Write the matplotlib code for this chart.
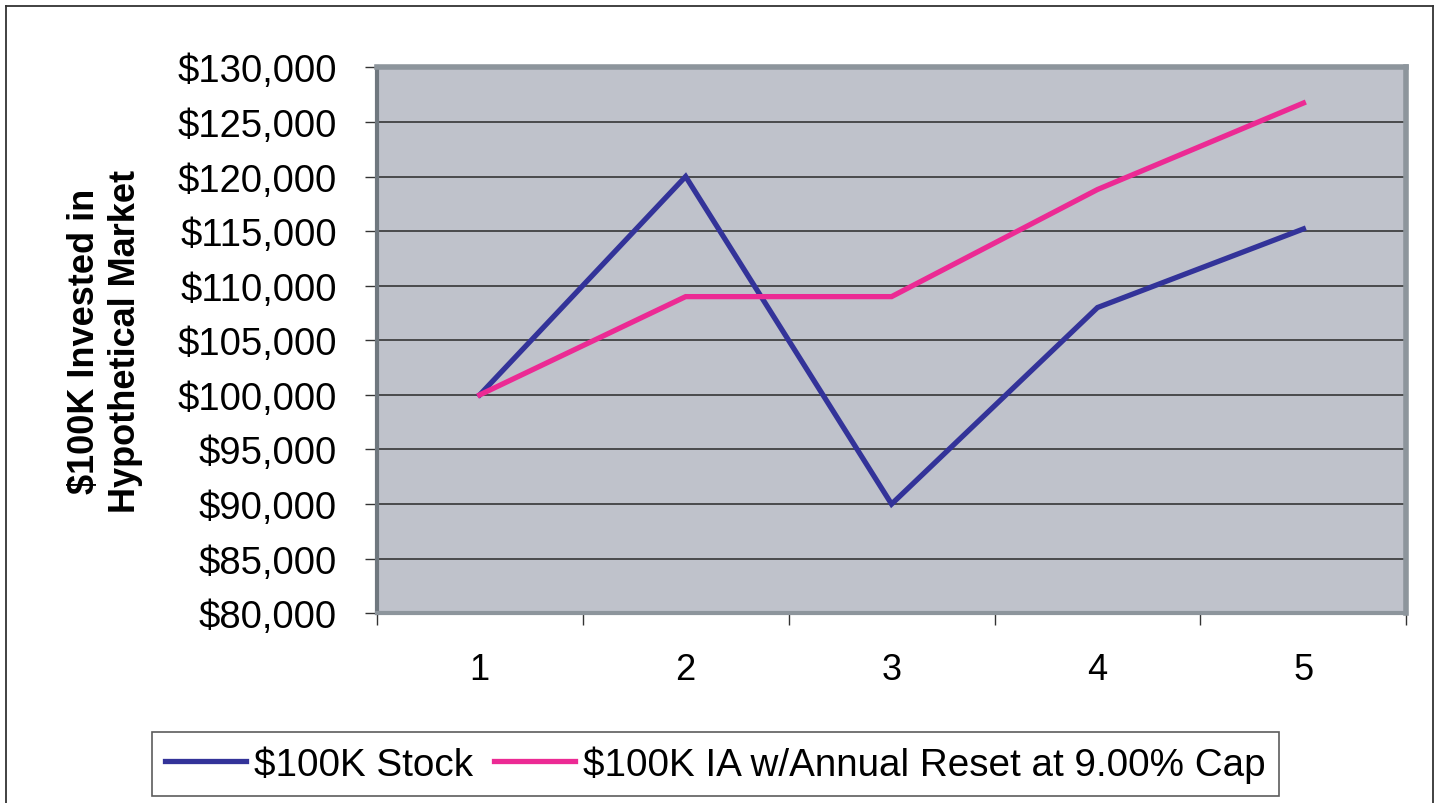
import numpy as np
import matplotlib
matplotlib.use("Agg")
import matplotlib.pyplot as plt
from matplotlib.ticker import FuncFormatter, MultipleLocator
from matplotlib.lines import Line2D

plt.rcParams['font.family'] = ['Liberation Sans', 'DejaVu Sans']

# data
years = [1, 2, 3, 4, 5]
stock_values = [100000, 120000, 90000, 108000, 115200]
ia_values = [100000, 109000, 109000, 118810, 126730]
series_labels = ['$100K Stock', '$100K IA w/Annual Reset at 9.00% Cap']
y_label = '$100K Invested in\nHypothetical Market'

fig = plt.figure(figsize=(14.38, 8.04), dpi=100)
ax = fig.add_axes([0.262, 0.236, 0.716, 0.679])
ax.set_facecolor('#BFC2CB')

ax.plot(years, stock_values, color='#333399', lw=3.8, label=series_labels[0],
        solid_joinstyle='miter', zorder=3)
ax.plot(years, ia_values, color='#EC2A94', lw=3.8, label=series_labels[1],
        solid_joinstyle='miter', zorder=3)

ax.set_xlim(0.5, 5.5)
ax.set_ylim(80000, 130000)
ax.yaxis.set_major_locator(MultipleLocator(5000))
ax.yaxis.set_major_formatter(FuncFormatter(lambda v, p: '${:,.0f}'.format(v)))
ax.set_xticks(years)
ax.set_xticks(np.arange(0.5, 6, 1), minor=True)
ax.grid(axis='y', color='#2a2a2a', lw=1.1, zorder=1)
ax.set_axisbelow(True)

ax.tick_params(axis='y', which='major', length=8.6, width=1, color='#333333',
               labelsize=27.5, pad=20)
ax.tick_params(axis='x', which='major', length=0, labelsize=26, pad=28)
ax.tick_params(axis='x', which='minor', length=8.6, width=1, color='#333333')

ax.set_ylabel(y_label, fontsize=26, fontweight='bold', labelpad=25,
              linespacing=1.2)

for side in ['top', 'right']:
    ax.spines[side].set_color('#8D959C')
    ax.spines[side].set_linewidth(4)
ax.spines['bottom'].set_color('#8D959C')
ax.spines['bottom'].set_linewidth(3)
ax.spines['left'].set_color('#6f777e')
ax.spines['left'].set_linewidth(3)

leg = fig.legend(loc='center', bbox_to_anchor=(0.4975, 0.0485), ncol=2,
                 fontsize=27.8, frameon=True, fancybox=False, handlelength=2.1,
                 handletextpad=0.2, columnspacing=0.55, borderpad=0.35)
leg.get_frame().set_edgecolor('#333333')
leg.get_frame().set_linewidth(1.2)

# outer chart border (bottom edge falls outside the picture)
fx0, fx1, fy1 = 6 / 1438, 1433 / 1438, 1 - 7 / 804
for xs, ys in [([fx0, fx0], [0, fy1]), ([fx0, fx1], [fy1, fy1]), ([fx1, fx1], [fy1, 0])]:
    fig.add_artist(Line2D(xs, ys, color='#333333', lw=1.3, transform=fig.transFigure))

fig.savefig('out.png', dpi=100)
